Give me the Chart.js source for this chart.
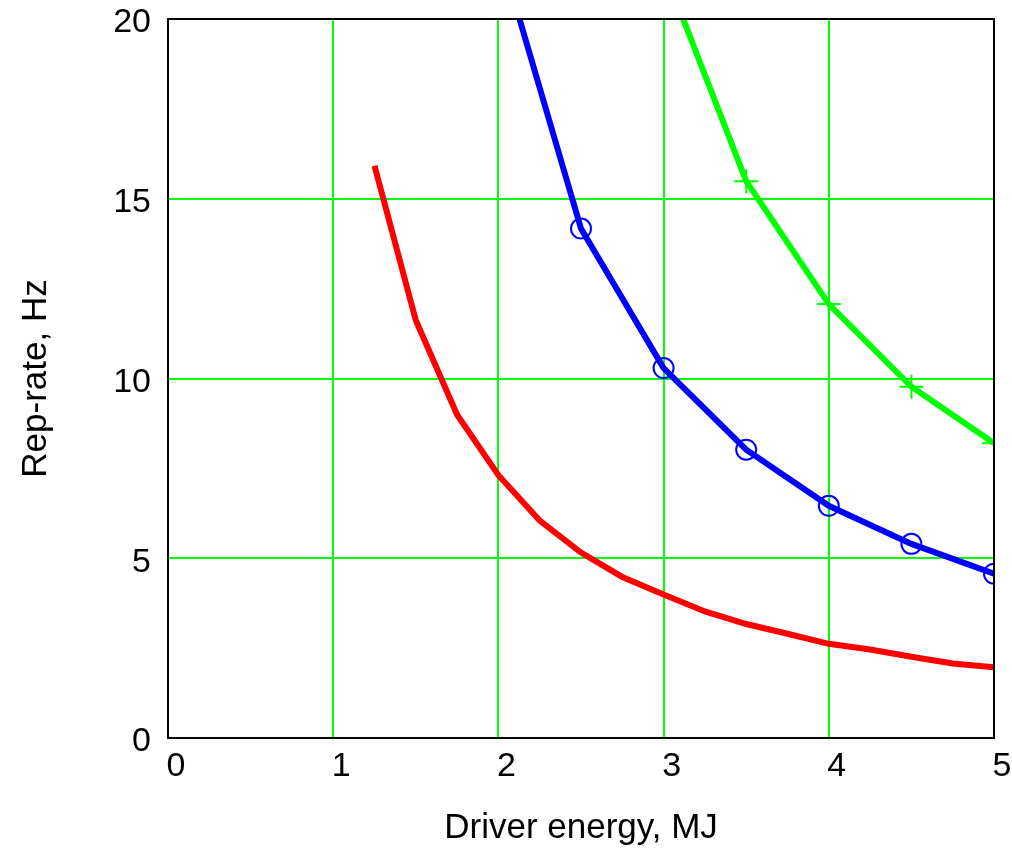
<!DOCTYPE html>
<html>
<head>
<meta charset="utf-8">
<script src="https://cdn.jsdelivr.net/npm/chart.js@4/dist/chart.umd.min.js"></script>
<style>
  html, body { margin: 0; padding: 0; background: #fff; }
  #wrap { width: 1012px; height: 849px; }
</style>
</head>
<body>
<div id="wrap"><canvas id="c" width="1012" height="849"></canvas></div>
<script>
// Data
const redEnergy   = [1.25, 1.5, 1.75, 2.0, 2.25, 2.5, 2.75, 3.0, 3.25, 3.5, 3.75, 4.0, 4.25, 4.5, 4.75, 5.0];
const redRate     = [15.92, 11.62, 8.99, 7.31, 6.05, 5.16, 4.48, 3.99, 3.52, 3.17, 2.90, 2.62, 2.46, 2.26, 2.07, 1.97];
const blueEnergy  = [2.0, 2.5, 3.0, 3.5, 4.0, 4.5, 5.0];
const blueRate    = [22.0, 14.17, 10.29, 8.02, 6.46, 5.40, 4.57];
const greenEnergy = [3.0, 3.5, 4.0, 4.5, 5.0];
const greenRate   = [21.4, 15.49, 12.07, 9.77, 8.20];
const xTicks = [0, 1, 2, 3, 4, 5];
const yTicks = [0, 5, 10, 15, 20];

const pts = (xs, ys) => xs.map((x, i) => ({ x: x, y: ys[i] }));
const FONT = "'Liberation Sans', Arial, sans-serif";

const boxPlugin = {
  id: 'box',
  afterDatasetsDraw(chart) {
    const a = chart.chartArea, ctx = chart.ctx;
    ctx.save();
    ctx.strokeStyle = '#000';
    ctx.lineWidth = 2;
    ctx.strokeRect(a.left, a.top, a.right - a.left, a.bottom - a.top);
    ctx.restore();
  }
};

new Chart(document.getElementById('c'), {
  type: 'line',
  data: {
    datasets: [
      { data: pts(redEnergy, redRate), borderColor: '#ff0000', borderWidth: 6, pointRadius: 0, tension: 0, clip: 0 },
      { data: pts(blueEnergy, blueRate), borderColor: '#0000ff', borderWidth: 6, tension: 0, clip: 0,
        pointStyle: 'circle', pointRadius: 10, pointBorderWidth: 2, pointBorderColor: '#0000ff', pointBackgroundColor: 'rgba(0,0,0,0)' },
      { data: pts(greenEnergy, greenRate), borderColor: '#00ff00', borderWidth: 6, tension: 0, clip: 0,
        pointStyle: 'cross', pointRadius: 12, pointBorderWidth: 2, pointBorderColor: '#00ff00', pointBackgroundColor: '#00ff00' }
    ]
  },
  options: {
    responsive: false,
    animation: false,
    devicePixelRatio: 1,
    layout: { padding: { top: 0, right: 18, left: 0, bottom: 0 } },
    plugins: { legend: { display: false }, tooltip: { enabled: false } },
    scales: {
      x: {
        type: 'linear', min: 0, max: 5,
        afterBuildTicks: s => { s.ticks = xTicks.map(v => ({ value: v })); },
        afterFit: s => { s.height = 111; },
        grid: { color: '#00ff00', lineWidth: 2, drawTicks: false },
        border: { color: '#000', width: 2 },
        ticks: { color: '#000', font: { family: FONT, size: 34 }, padding: 8, labelOffset: 8, maxRotation: 0 },
        title: { display: true, text: 'Driver energy, MJ', color: '#000', font: { family: FONT, size: 35, lineHeight: 1.2 }, padding: { top: 0, bottom: 0 } }
      },
      y: {
        type: 'linear', min: 0, max: 20,
        afterBuildTicks: s => { s.ticks = yTicks.map(v => ({ value: v })); },
        afterFit: s => { s.width = 168; s.paddingTop = 19; s.paddingBottom = 0; },
        grid: { color: '#00ff00', lineWidth: 2, drawTicks: false },
        border: { color: '#000', width: 2 },
        ticks: { color: '#000', font: { family: FONT, size: 34 }, padding: 17, labelOffset: 4 },
        title: { display: true, text: 'Rep-rate, Hz', color: '#000', font: { family: FONT, size: 35, lineHeight: 1.2 }, padding: { top: 15, bottom: 0 } }
      }
    }
  },
  plugins: [boxPlugin]
});
</script>
</body>
</html>
